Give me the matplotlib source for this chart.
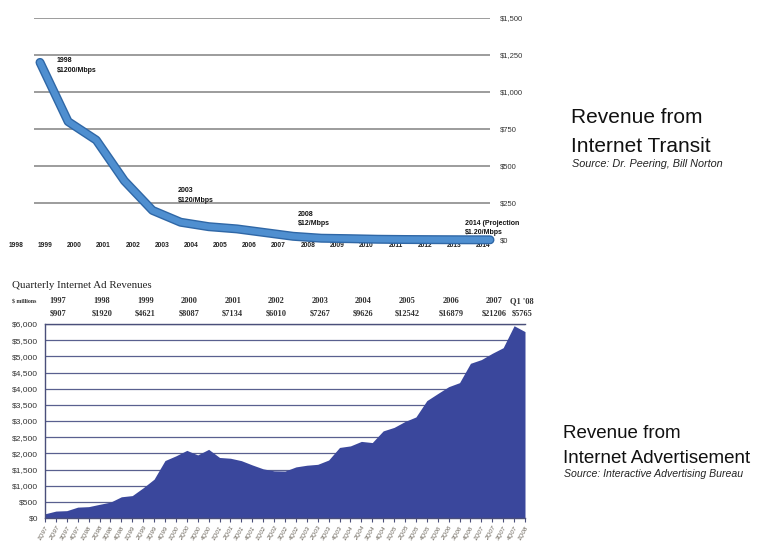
import matplotlib
matplotlib.use("Agg")
import matplotlib.pyplot as plt
import matplotlib.patheffects as pe
import numpy as np

plt.rcParams['font.family'] = ['Liberation Sans', 'DejaVu Sans']

# top chart: internet transit price, $ per Mbps
transit_years = [1998, 1999, 2000, 2001, 2002, 2003, 2004, 2005, 2006,
                 2007, 2008, 2009, 2010, 2011, 2012, 2013, 2014]
transit_price = [1200, 800, 675, 400, 200, 120, 90, 75, 50,
                 25, 12, 9, 5, 3.25, 2.34, 1.57, 1.20]
transit_ticks = [0, 250, 500, 750, 1000, 1250, 1500]

# bottom chart: quarterly internet ad revenue, $ millions (1Q97 .. 1Q08)
ad_quarters = []
for yy in range(1997, 2008):
    for q in range(1, 5):
        ad_quarters.append(f"{q}Q{str(yy)[2:]}")
ad_quarters.append("1Q08")
ad_revenue = [130, 214, 227, 336,
              351, 423, 491, 656,
              693, 934, 1201, 1777,
              1922, 2091, 1951, 2123,
              1872, 1848, 1773, 1641,
              1520, 1458, 1451, 1580,
              1632, 1660, 1793, 2182,
              2230, 2369, 2333, 2694,
              2802, 2985, 3125, 3630,
              3848, 4061, 4186, 4784,
              4899, 5094, 5267, 5946,
              5765]
year_labels = ["1997", "1998", "1999", "2000", "2001", "2002", "2003",
               "2004", "2005", "2006", "2007", "Q1 '08"]
year_totals = ["$907", "$1920", "$4621", "$8087", "$7134", "$6010", "$7267",
               "$9626", "$12542", "$16879", "$21206", "$5765"]

W, H = 778, 546
fig = plt.figure(figsize=(W / 100, H / 100), dpi=100)
fig.patch.set_facecolor('white')

def fx(x):
    return x / W

def fy(y):
    return 1 - y / H

# ---------- top chart ----------
ax1 = fig.add_axes([fx(8), fy(240), fx(490) - fx(8), (240 - 18) / H])
ax1.set_xlim(1996.862, 2014)
ax1.set_ylim(0, 1500)
for s in ax1.spines.values():
    s.set_visible(False)
ax1.hlines(transit_ticks[1:], 1997.8, 2014, color='#9c9c9c', lw=1.4, zorder=1)
ax1.plot(transit_years, transit_price, color='#4f8fd0', lw=4.5,
         solid_capstyle='round', clip_on=False, zorder=3,
         path_effects=[pe.Stroke(linewidth=6.5, foreground='#2f67a6'), pe.Normal()])
ax1.yaxis.tick_right()
ax1.set_yticks(transit_ticks)
ax1.set_yticklabels(["$0" if v == 0 else f"${v:,}" for v in transit_ticks],
                    fontsize=5.5, color='#333333')
ax1.tick_params(axis='y', length=0, pad=7)
tick_pos = 1997.146 + 1.038 * (np.array(transit_years) - 1998)
ax1.set_xticks(tick_pos)
ax1.set_xticklabels([str(y) for y in transit_years], fontsize=4.8,
                    fontweight='bold', color='#222222')
ax1.tick_params(axis='x', length=0, pad=1.5)

note_kw = dict(fontsize=5, fontweight='bold', va='top', ha='left',
               linespacing=1.5, color='#111111')
ax1.text(1998.6, 1234, "1998\n$1200/Mbps", **note_kw)
ax1.text(2002.9, 355, "2003\n$120/Mbps", **note_kw)
ax1.text(2007.17, 198, "2008\n$12/Mbps", **note_kw)
ax1.text(2013.1, 135, "2014 (Projection\n$1.20/Mbps", fontsize=5,
         fontweight='bold', va='top', ha='left', linespacing=1.35,
         color='#111111')

fig.text(fx(571), fy(123), "Revenue from", fontsize=15, color='#111111')
fig.text(fx(571), fy(152), "Internet Transit", fontsize=15, color='#111111')
fig.text(fx(572), fy(167), "Source: Dr. Peering, Bill Norton", fontsize=7.8,
         style='italic', color='#222222')

# ---------- bottom chart ----------
idx = np.arange(len(ad_revenue))
ax2 = fig.add_axes([fx(45), fy(518), 480 / W, (518 - 324) / H])
ax2.set_xlim(0, len(ad_revenue) - 1)
ax2.set_ylim(0, 6000)
ax2.fill_between(idx, ad_revenue, color='#3a479c', lw=0, zorder=2)
ax2.set_axisbelow(True)
ax2.set_yticks(range(0, 6001, 500))
ax2.set_yticklabels([f"${v:,}" for v in range(0, 6001, 500)], fontsize=6,
                    color='#333333')
ax2.yaxis.grid(True, color='#59608f', lw=0.9)
ax2.tick_params(axis='y', length=0, pad=5)
for side in ['top', 'left', 'bottom']:
    ax2.spines[side].set_color('#4a4f7a')
    ax2.spines[side].set_linewidth(1)
ax2.spines['right'].set_visible(False)
ax2.set_xticks(idx)
ax2.set_xticklabels(ad_quarters, rotation=60, fontsize=4.5, style='italic',
                    color='#666055', ha='right', rotation_mode='anchor')
ax2.tick_params(axis='x', length=3, color='#4a4f7a', pad=2)

fig.text(fx(12), fy(288), "Quarterly Internet Ad Revenues", fontsize=7.8,
         family='Liberation Serif', color='#222222')
fig.text(fx(12), fy(303), "$ millions", fontsize=4.3, family='Liberation Serif',
         fontweight='bold', color='#333333')
for i, (lab, tot) in enumerate(zip(year_labels, year_totals)):
    pos = 4 * i + 1.2 if i < len(year_labels) - 1 else len(ad_revenue) - 1.3
    xf = fx(45 + pos * 480 / (len(ad_revenue) - 1))
    fig.text(xf, fy(303), lab, fontsize=6, family='Liberation Serif',
             fontweight='bold', color='#333333', ha='center')
    fig.text(xf, fy(316), tot, fontsize=6, family='Liberation Serif',
             fontweight='bold', color='#333333', ha='center')

fig.text(fx(563), fy(438), "Revenue from", fontsize=13.5, color='#111111')
fig.text(fx(563), fy(463), "Internet Advertisement", fontsize=13.5, color='#111111')
fig.text(fx(564), fy(477), "Source: Interactive Advertising Bureau", fontsize=7.6,
         style='italic', color='#222222')

fig.savefig("out.png", dpi=100, facecolor='white')
